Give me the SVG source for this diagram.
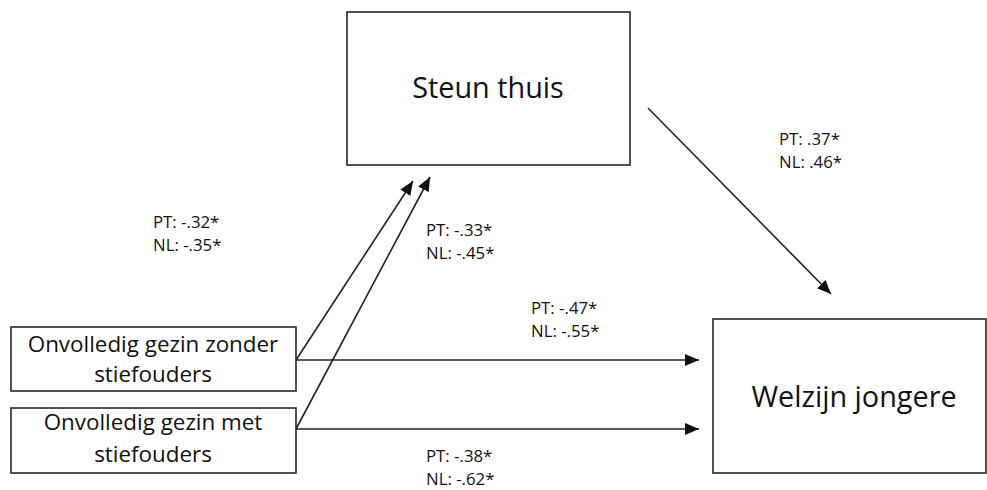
<svg xmlns="http://www.w3.org/2000/svg" width="987" height="490" viewBox="0 0 987 490">
<style>
.box{fill:#fff;stroke:#262626;stroke-width:1.6}
.big{font-family:"Open Sans","Noto Sans",sans-serif;font-size:28.8px;fill:#111;text-anchor:middle}
.mid{font-family:"Open Sans","Noto Sans",sans-serif;font-size:22.4px;fill:#111;text-anchor:middle}
.lbl{font-family:"Open Sans","Noto Sans",sans-serif;font-size:16.8px;fill:#111}
.edge{stroke:#222;stroke-width:1.6;fill:none;marker-end:url(#ah)}
</style>
<defs>
<marker id="ah" markerUnits="userSpaceOnUse" markerWidth="14" markerHeight="12" refX="14" refY="6" orient="auto">
<path d="M0,0 L14,6 L0,12 Z" fill="#111"/>
</marker>
</defs>
<rect width="987" height="490" fill="#fff"/>
<g id="steun">
<rect class="box" x="347" y="12" width="283" height="153"/>
<text class="big" x="488" y="98">Steun thuis</text>
</g>
<g id="zonder">
<rect class="box" x="11" y="327" width="285" height="64"/>
<text class="mid" x="153" y="352">Onvolledig gezin zonder</text>
<text class="mid" x="153" y="382">stiefouders</text>
</g>
<g id="met">
<rect class="box" x="11" y="408" width="285" height="65"/>
<text class="mid" x="153" y="430">Onvolledig gezin met</text>
<text class="mid" x="153" y="462">stiefouders</text>
</g>
<g id="welzijn">
<rect class="box" x="713" y="319" width="273" height="154"/>
<text class="big" x="854" y="407">Welzijn jongere</text>
</g>
<g id="connectors">
<line class="edge" x1="296" y1="360" x2="413" y2="181"/>
<line class="edge" x1="296" y1="429" x2="430" y2="177"/>
<line class="edge" x1="296" y1="360" x2="699" y2="360"/>
<line class="edge" x1="296" y1="429" x2="699" y2="429"/>
<line class="edge" x1="648" y1="108" x2="831" y2="294"/>
</g>
<g id="labels">
<text class="lbl" x="153" y="228">PT: -.32*</text>
<text class="lbl" x="153" y="251">NL: -.35*</text>
<text class="lbl" x="426" y="236">PT: -.33*</text>
<text class="lbl" x="426" y="259">NL: -.45*</text>
<text class="lbl" x="779" y="145">PT: .37*</text>
<text class="lbl" x="779" y="168">NL: .46*</text>
<text class="lbl" x="531" y="314">PT: -.47*</text>
<text class="lbl" x="531" y="337">NL: -.55*</text>
<text class="lbl" x="426" y="462">PT: -.38*</text>
<text class="lbl" x="426" y="485">NL: -.62*</text>
</g>
</svg>
